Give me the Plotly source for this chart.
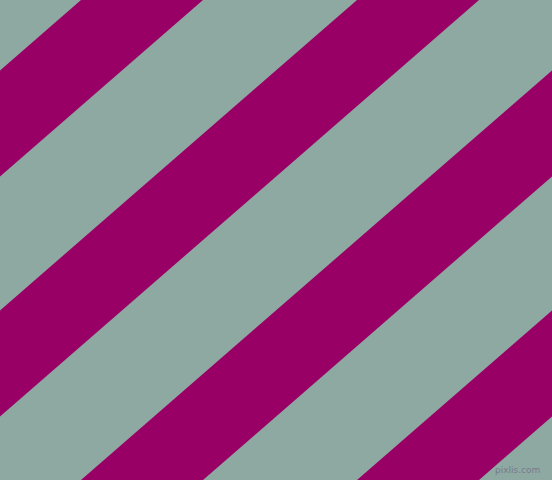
import plotly.graph_objects as go

# diagonal stripes: each band is x + slope*y between c_start and c_end (pixels)
band_start = [81, 357, 633, 909]
band_end = [203, 479, 755, 1031]
slope = 1.15

W, H = 552, 480
teal = "#8EA9A1"
plum = "#990066"

fig = go.Figure()
for c1, c2 in zip(band_start, band_end):
    xs = [c1, c2, c2 - slope * H, c1 - slope * H, c1]
    ys = [0, 0, H, H, 0]
    fig.add_trace(go.Scatter(x=xs, y=ys, mode="lines", fill="toself",
                             fillcolor=plum, line=dict(width=0, color=plum),
                             hoverinfo="skip", showlegend=False))

fig.add_annotation(x=542, y=470, xref="x", yref="y", text="pixlis.com",
                   showarrow=False, xanchor="right", yanchor="middle",
                   font=dict(family="DejaVu Sans", size=9, color="#7a7a8c"))

fig.update_xaxes(range=[0, W], visible=False, fixedrange=True)
fig.update_yaxes(range=[H, 0], visible=False, fixedrange=True)
fig.update_layout(width=W, height=H, margin=dict(l=0, r=0, t=0, b=0),
                  plot_bgcolor=teal, paper_bgcolor=teal)

# page body has a default 8px margin; drop it so the figure fills the window
fig.write_html("out.html", config={"displayModeBar": False},
               post_script="document.body.style.margin='0';")
